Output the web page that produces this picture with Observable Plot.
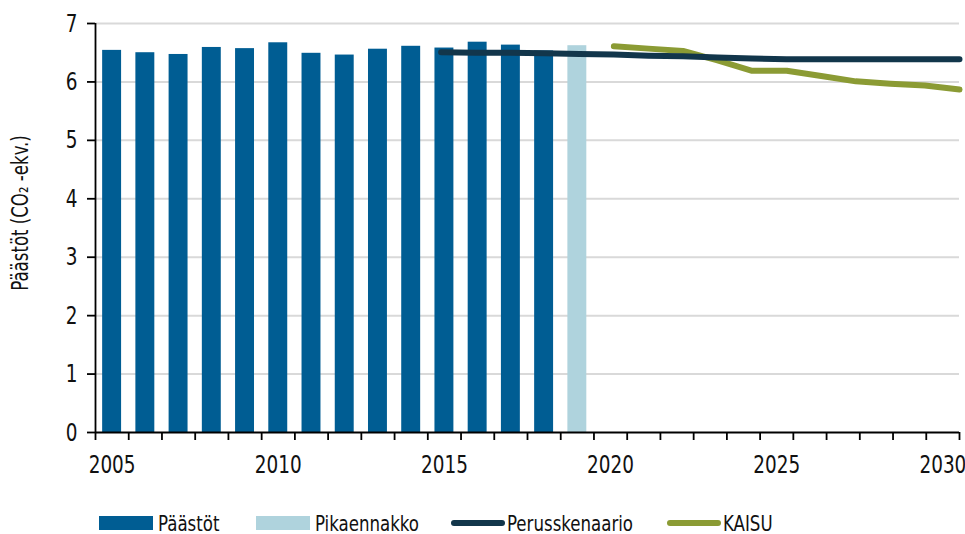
<!DOCTYPE html>
<html>
<head>
<meta charset="utf-8">
<script src="https://cdn.jsdelivr.net/npm/d3@7"></script>
<script src="https://cdn.jsdelivr.net/npm/@observablehq/plot@0.6"></script>
<style>
  html, body { margin: 0; padding: 0; background: #fff; }
  body { width: 965px; height: 534px; overflow: hidden; font-family: "DejaVu Sans Condensed", "DejaVu Sans", sans-serif; }
  #legend { position: relative; height: 42px; font-size: 22px; color: #111; }
  .item { position: absolute; top: 20px; display: flex; align-items: center; height: 22px; }
  .sw { width: 54px; height: 14px; margin-right: 5px; flex: none; }
  .ln { width: 54px; height: 6px; border-radius: 3px; margin-right: 2px; flex: none; }
  .lbl { display: inline-block; transform: scaleX(0.84); transform-origin: left center; white-space: nowrap; }
</style>
</head>
<body>
<div id="chart"></div>
<div id="legend"></div>
<script>
// Bars: historical emissions
const barYears = [2005, 2006, 2007, 2008, 2009, 2010, 2011, 2012, 2013, 2014, 2015, 2016, 2017, 2018];
const paastot  = [6.54, 6.50, 6.47, 6.59, 6.57, 6.67, 6.49, 6.46, 6.56, 6.61, 6.58, 6.68, 6.63, 6.53];
// Flash estimate
const pikaYears = [2019];
const pikaennakko = [6.62];
// Baseline scenario
const perusYears = [2015, 2016, 2017, 2018, 2019, 2020, 2021, 2022, 2023, 2024, 2025, 2026, 2027, 2028, 2029, 2030];
const perusskenaario = [6.51, 6.50, 6.50, 6.49, 6.48, 6.47, 6.45, 6.44, 6.42, 6.40, 6.39, 6.39, 6.39, 6.39, 6.39, 6.39];
// KAISU scenario
const kaisuYears = [2020, 2021, 2022, 2023, 2024, 2025, 2026, 2027, 2028, 2029, 2030];
const kaisu = [6.61, 6.57, 6.53, 6.37, 6.19, 6.19, 6.10, 6.01, 5.97, 5.94, 5.87];
// Axis ticks
const yTicks = [0, 1, 2, 3, 4, 5, 6, 7];
const xLabelYears = [2005, 2010, 2015, 2020, 2025, 2030];
const firstYear = 2005, lastYear = 2030;

const colors = { paastot: "#005d93", pika: "#afd3dd", perus: "#12364b", kaisu: "#8b9b34" };

const barData = barYears.map((year, i) => ({ year, value: paastot[i] }));
const pikaData = pikaYears.map((year, i) => ({ year, value: pikaennakko[i] }));
const perusData = perusYears.map((year, i) => ({ year, value: perusskenaario[i] }));
const kaisuData = kaisuYears.map((year, i) => ({ year, value: kaisu[i] }));

const nCat = lastYear - firstYear + 1;
const x0 = firstYear - 0.5, x1 = lastYear + 0.5;
const boundaries = d3.range(nCat + 1).map(i => x0 + i);
const half = 0.285;
// line series sit on "on tick marks" positions spanning the whole axis
const lineX = d => x0 + (d.year - firstYear) * nCat / (nCat - 1);

const font = "DejaVu Sans Condensed, DejaVu Sans, sans-serif";

const chart = Plot.plot({
  width: 965,
  height: 492,
  marginLeft: 95,
  marginRight: 6,
  marginTop: 23,
  marginBottom: 60,
  style: { fontFamily: font, fontSize: "24px", color: "#111", background: "#fff" },
  x: { domain: [x0, x1], axis: null, label: null },
  y: { domain: [0, 7], axis: null, label: null },
  marks: [
    Plot.gridY(yTicks.filter(d => d > 0), { stroke: "#d9d9d9", strokeOpacity: 1, strokeWidth: 2 }),
    Plot.rectY(barData, { x1: d => d.year - half, x2: d => d.year + half, y: "value", fill: colors.paastot }),
    Plot.rectY(pikaData, { x1: d => d.year - half, x2: d => d.year + half, y: "value", fill: colors.pika }),
    Plot.line(kaisuData, { x: lineX, y: "value", stroke: colors.kaisu, strokeWidth: 6, strokeLinecap: "round", strokeLinejoin: "round" }),
    Plot.line(perusData, { x: lineX, y: "value", stroke: colors.perus, strokeWidth: 6, strokeLinecap: "round", strokeLinejoin: "round" }),
    Plot.ruleX([x0], { stroke: "#000", strokeWidth: 1.8 }),
    Plot.ruleY([0], { stroke: "#000", strokeWidth: 1.8 }),
    Plot.axisY({ ticks: yTicks, tickSize: 8, tickPadding: 10, tickFormat: d => d, stroke: "#000", strokeWidth: 1.8, fontSize: 25, label: null }),
    Plot.axisX({ ticks: boundaries, tickSize: 8, tickFormat: () => "", stroke: "#000", strokeWidth: 1.8, label: null }),
    Plot.axisX({ ticks: xLabelYears, tickSize: 0, tickPadding: 23, tickFormat: d => String(d), fontSize: 25, label: null }),
    Plot.text(["Päästöt (CO₂ -ekv.)"], { frameAnchor: "left", textAnchor: "middle", lineAnchor: "middle", dx: -75, dy: -15, rotate: -90, fontSize: 22.5, fill: "#111" })
  ]
});
document.getElementById("chart").appendChild(chart);

// horizontally condense the text so it resembles the reference's narrow typeface
chart.querySelectorAll("text").forEach(t => {
  let tr = t.getAttribute("transform") || "";
  const x = t.getAttribute("x");
  if (x !== null && /^-?[\d.]+$/.test(x)) { t.removeAttribute("x"); tr += ` translate(${x},0)`; }
  t.setAttribute("transform", `${tr} scale(0.82,1)`);
});

const legendItems = [
  { label: "Päästöt", type: "sw", color: colors.paastot, left: 99 },
  { label: "Pikaennakko", type: "sw", color: colors.pika, left: 256 },
  { label: "Perusskenaario", type: "ln", color: colors.perus, left: 451 },
  { label: "KAISU", type: "ln", color: colors.kaisu, left: 667 }
];
const legend = document.getElementById("legend");
for (const it of legendItems) {
  const div = document.createElement("div");
  div.className = "item";
  div.style.left = it.left + "px";
  const s = document.createElement("span");
  s.className = it.type;
  s.style.background = it.color;
  div.appendChild(s);
  const t = document.createElement("span");
  t.className = "lbl";
  t.textContent = it.label;
  div.appendChild(t);
  legend.appendChild(div);
}
</script>
</body>
</html>
